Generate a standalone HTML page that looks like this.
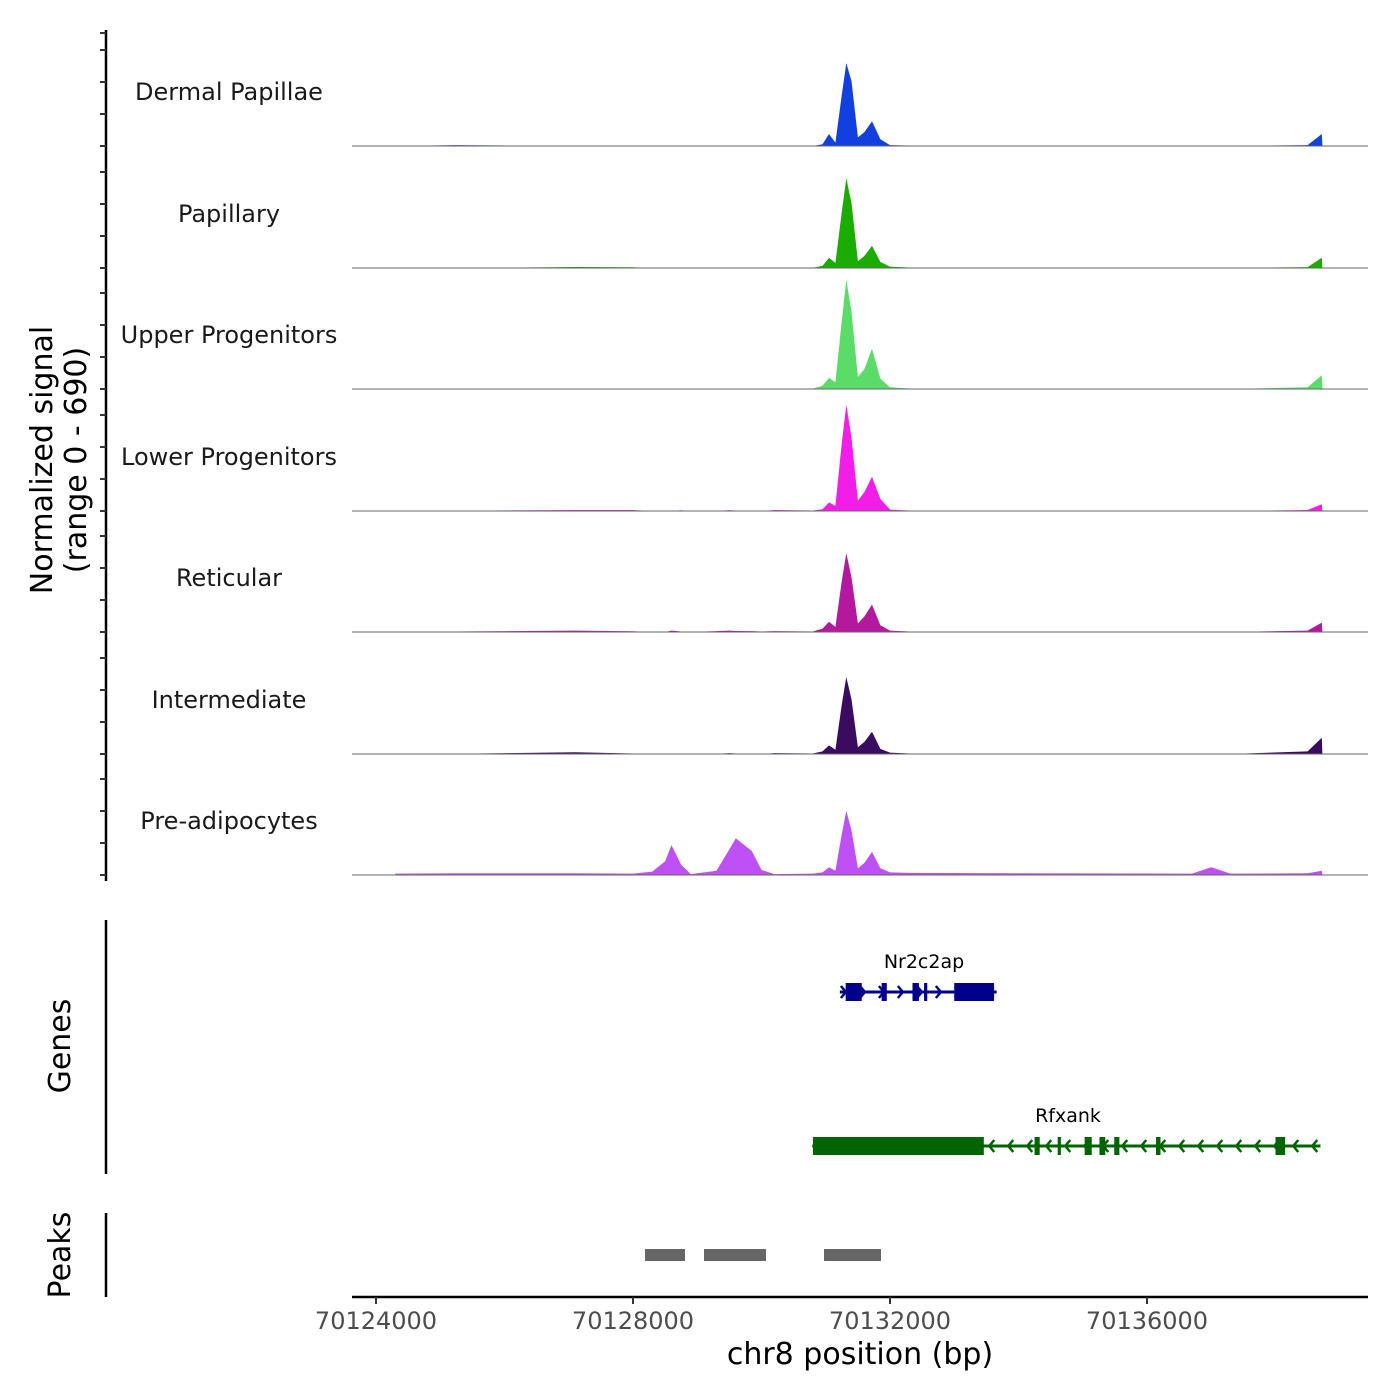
<!DOCTYPE html>
<html><head><meta charset="utf-8"><style>
body{margin:0;background:#fff;}
svg{display:block;font-family:"DejaVu Sans","Liberation Sans",sans-serif;}
</style></head><body>
<svg id="chart" width="1400" height="1400" viewBox="0 0 1400 1400" xmlns="http://www.w3.org/2000/svg"></svg>
<script>
const trackNames = ["Dermal Papillae","Papillary","Upper Progenitors","Lower Progenitors","Reticular","Intermediate","Pre-adipocytes"];
const positions = [70124300,70125250,70127100,70128000,70128300,70128500,70128600,70128750,70128900,70129300,70129500,70129600,70129850,70130000,70130200,70130800,70130950,70131050,70131150,70131250,70131320,70131400,70131500,70131600,70131720,70131850,70132000,70132300,70134000,70136700,70137000,70137300,70138500,70138720,70138730];
const dermalPapillae = [0,5,0,3,0,0,0,0,0,0,3,0,0,0,0,0,10,70,20,300,485,380,50,80,145,40,5,3,0,0,0,0,5,70,0];
const papillary =      [0,0,6,4,0,0,0,0,0,0,0,0,0,0,0,2,12,60,30,330,525,380,40,70,130,35,8,3,0,0,0,0,5,60,0];
const upperProg =      [0,0,2,2,0,0,0,0,0,0,0,0,0,0,0,2,20,65,40,400,640,450,70,115,235,60,10,3,2,0,0,0,10,80,0];
const lowerProg =      [0,2,6,6,0,0,0,4,0,0,5,3,0,0,6,3,10,50,30,400,620,430,60,110,200,70,8,3,2,0,0,0,6,40,0];
const reticular =      [0,3,8,4,0,0,8,3,0,5,8,6,5,3,5,3,20,60,30,300,460,320,50,90,160,40,8,3,2,0,0,0,8,55,0];
const intermediate =   [0,2,10,3,0,0,0,3,0,0,5,3,0,0,5,3,15,50,25,290,450,320,40,70,130,30,8,3,2,0,0,0,15,95,0];
const preAdipocytes =  [8,10,10,8,20,80,175,60,5,25,150,215,140,30,5,8,15,45,25,240,375,260,40,70,135,40,15,12,10,8,45,8,10,25,0];
const seriesList = [dermalPapillae,papillary,upperProg,lowerProg,reticular,intermediate,preAdipocytes];
const colors = ["#1240e0","#1aad00","#5bdc68","#f21ee8","#b3189e","#3a0b5e","#bf50f5"];
const xTicks = [70124000,70128000,70132000,70136000];
const xTickLabels = ["70124000","70128000","70132000","70136000"];
const peaks = [[70128187,70128809],[70129105,70130070],[70130973,70131860]];
const nr2Span = [70131220,70133660];
const nr2Exons = [[70131310,70131560],[70131870,70131950],[70132350,70132450],[70132530,70132580],[70133000,70133620]];
const rfxSpan = [70130790,70138700];
const rfxExons = [[70130800,70133460],[70134250,70134330],[70134610,70134660],[70135030,70135140],[70135260,70135350],[70135490,70135570],[70136140,70136210],[70138000,70138150]];

const svg = document.getElementById('chart');
const NS = "http://www.w3.org/2000/svg";
const X0 = 376, PXBP = 257/4000;
const xs = bp => X0 + (bp - 70124000) * PXBP;
const baselines = [146,268,389,511,632,754,875];
const VS = 118/690;
function mk(tag, attrs, parent){const e=document.createElementNS(NS,tag);for(const k in attrs)e.setAttribute(k,attrs[k]);(parent||svg).appendChild(e);return e;}

const yAxis = mk('g',{});


mk('line',{x1:106,y1:30,x2:106,y2:881,stroke:'#000','stroke-width':2.5},yAxis);
baselines.forEach(b=>{for(let k=0;k<4;k++){const y=b-k*32;mk('line',{x1:100,y1:y,x2:106,y2:y,stroke:'#333','stroke-width':2},yAxis);}});
mk('line',{x1:100,y1:33,x2:106,y2:33,stroke:'#333','stroke-width':2},yAxis);
const yt = mk('text',{transform:'translate(52,460) rotate(-90)','text-anchor':'middle','font-size':30,fill:'#000'});


yt.innerHTML='<tspan x="0" dy="0">Normalized signal</tspan><tspan x="0" dy="34">(range 0 - 690)</tspan>';

seriesList.forEach((vals,i)=>{
  const g = mk('g',{});
  
  
  const b = baselines[i];
  let d = 'M'+xs(positions[0])+','+b;
  positions.forEach((p,j)=>{d+=' L'+xs(p).toFixed(1)+','+(b - vals[j]*VS).toFixed(1);});
  d += ' L'+xs(positions[positions.length-1])+','+b+' Z';
  const a = mk('path',{d:d,fill:colors[i]},g);
  
  
  mk('line',{x1:352,y1:b,x2:1368,y2:b,stroke:'#666','stroke-width':1},g);
  const t = mk('text',{x:229,y:b-46,'text-anchor':'middle','font-size':24,fill:'#1a1a1a'},g);
  
  
  t.textContent = trackNames[i];
});

const ga = mk('line',{x1:106,y1:920,x2:106,y2:1174,stroke:'#000','stroke-width':2.5});


const gt = mk('text',{transform:'translate(70,1046) rotate(-90)','text-anchor':'middle','font-size':30,fill:'#000'});


gt.textContent='Genes';
function drawGene(name,span,exons,y,color,dir,labelX){
  const g = mk('g',{});
  
  
  mk('line',{x1:xs(span[0]),y1:y,x2:xs(span[1]),y2:y,stroke:color,'stroke-width':3},g);
  for(let x=xs(span[0])+6;x<xs(span[1]);x+=19){
    const dx = dir*5;
    mk('polyline',{points:(x-dx)+','+(y-6)+' '+x+','+y+' '+(x-dx)+','+(y+6),fill:'none',stroke:color,'stroke-width':2.5},g);
  }
  exons.forEach(e=>{mk('rect',{x:xs(e[0]),y:y-9,width:Math.max(3,xs(e[1])-xs(e[0])),height:18,fill:color},g);});
  const t = mk('text',{x:labelX,y:y-24,'text-anchor':'middle','font-size':19,fill:'#000'},g);
  
  
  t.textContent=name;
}
drawGene('Nr2c2ap',nr2Span,nr2Exons,992,'#00008b',1,924);
drawGene('Rfxank',rfxSpan,rfxExons,1146,'#006400',-1,1068);

const pa = mk('line',{x1:106,y1:1213,x2:106,y2:1297,stroke:'#000','stroke-width':2.5});


const pt = mk('text',{transform:'translate(70,1255) rotate(-90)','text-anchor':'middle','font-size':30,fill:'#000'});


pt.textContent='Peaks';
peaks.forEach(p=>{
  const r = mk('rect',{x:xs(p[0]),y:1249,width:xs(p[1])-xs(p[0]),height:12,fill:'#666'});
  
  
});

const xa = mk('g',{});


mk('line',{x1:352,y1:1297,x2:1368,y2:1297,stroke:'#000','stroke-width':2.5},xa);
xTicks.forEach((t,i)=>{
  mk('line',{x1:xs(t),y1:1297,x2:xs(t),y2:1304,stroke:'#333','stroke-width':2},xa);
  const tl = mk('text',{x:xs(t),y:1329,'text-anchor':'middle','font-size':24,fill:'#4d4d4d'},xa);
  
  
  tl.textContent = xTickLabels[i];
});
const xt = mk('text',{x:860,y:1364,'text-anchor':'middle','font-size':30,fill:'#000'});


xt.textContent='chr8 position (bp)';
</script>
</body></html>
